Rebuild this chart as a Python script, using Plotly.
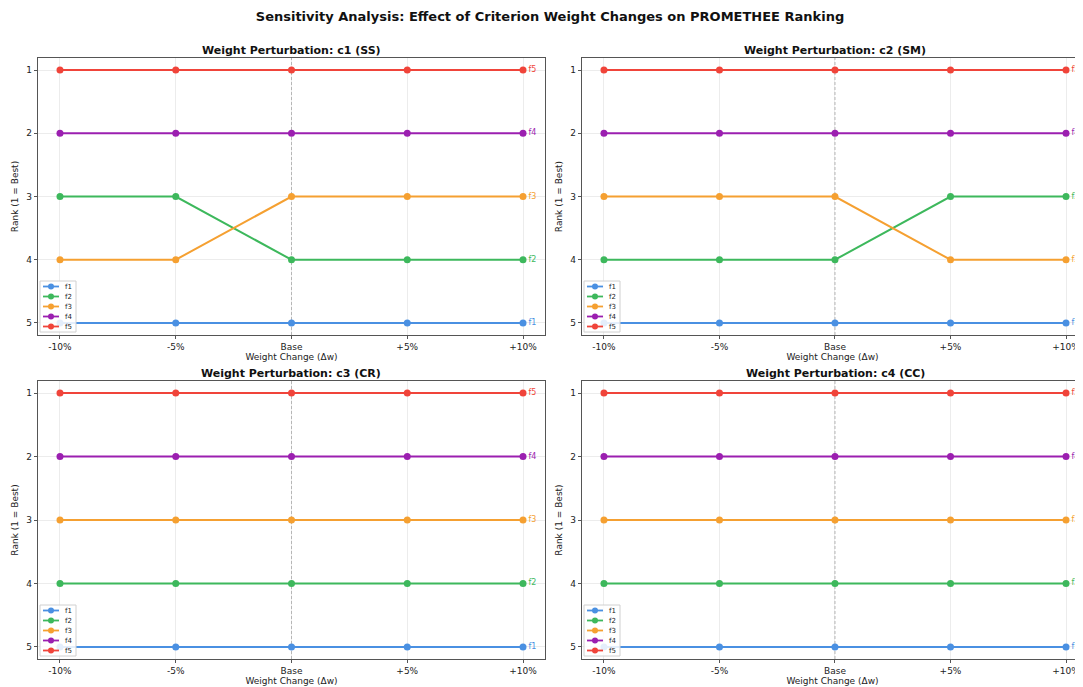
import plotly.graph_objects as go

x_labels = ["-10%", "-5%", "Base", "+5%", "+10%"]
flows = ["f1", "f2", "f3", "f4", "f5"]
colors = ["#4A90E2", "#3DB85C", "#F5A031", "#9B1FB0", "#F0443A"]
panel_titles = ["Weight Perturbation: c1 (SS)", "Weight Perturbation: c2 (SM)",
                "Weight Perturbation: c3 (CR)", "Weight Perturbation: c4 (CC)"]

ranks_c1 = {"f1": [5, 5, 5, 5, 5], "f2": [3, 3, 4, 4, 4], "f3": [4, 4, 3, 3, 3],
            "f4": [2, 2, 2, 2, 2], "f5": [1, 1, 1, 1, 1]}
ranks_c2 = {"f1": [5, 5, 5, 5, 5], "f2": [4, 4, 4, 3, 3], "f3": [3, 3, 3, 4, 4],
            "f4": [2, 2, 2, 2, 2], "f5": [1, 1, 1, 1, 1]}
ranks_c3 = {"f1": [5, 5, 5, 5, 5], "f2": [4, 4, 4, 4, 4], "f3": [3, 3, 3, 3, 3],
            "f4": [2, 2, 2, 2, 2], "f5": [1, 1, 1, 1, 1]}
ranks_c4 = {"f1": [5, 5, 5, 5, 5], "f2": [4, 4, 4, 4, 4], "f3": [3, 3, 3, 3, 3],
            "f4": [2, 2, 2, 2, 2], "f5": [1, 1, 1, 1, 1]}
panels = [ranks_c1, ranks_c2, ranks_c3, ranks_c4]

OFF = 8  # page body margin
W, H = 1083 - OFF, 687 - OFF
ML, MR, MT, MB = 38 - OFF, 0, 58 - OFF, 28
pw, ph = W - ML - MR, H - MT - MB

def px2x(p):
    return (p - OFF - ML) / pw

def px2y(p):
    return 1 - (p - OFF - MT) / ph

frame_left = [38, 582]
frame_bottom = [335, 659]
xdoms = [[px2x(38), px2x(545)], [px2x(582), 1.0]]
ydoms = [[px2y(335), px2y(58)], [0.0, px2y(381)]]
xranges = [[-0.19, 4.19], [-0.19, 4.147]]
yrange = [5.19, 0.81]

fig = go.Figure()
font = "DejaVu Sans, Arial, sans-serif"
xi = list(range(len(x_labels)))
shapes = []
annos = []

for k, data in enumerate(panels):
    r, c = divmod(k, 2)
    ax = "" if k == 0 else str(k + 1)
    # baseline (Base) reference line, beneath the data
    fig.add_trace(go.Scatter(
        x=[2, 2], y=yrange, mode="lines", hoverinfo="skip",
        line=dict(color="#b0b0b0", width=0.9, dash="3px,2px"),
        xaxis="x" + ax, yaxis="y" + ax, showlegend=False,
    ))
    for i, f in enumerate(flows):
        txt = [""] * (len(xi) - 1) + [f]
        fig.add_trace(go.Scatter(
            x=xi, y=data[f], mode="lines+markers+text", name=f,
            text=txt, textposition="middle right",
            textfont=dict(size=8, color=colors[i], family=font),
            line=dict(color=colors[i], width=2),
            marker=dict(size=7, color=colors[i]),
            xaxis="x" + ax, yaxis="y" + ax, showlegend=False, cliponaxis=False,
        ))
    xd, yd = xdoms[c], ydoms[r]
    fig.layout["xaxis" + ax] = dict(
        domain=xd, anchor="y" + ax, range=xranges[c],
        tickmode="array", tickvals=xi, ticktext=x_labels,
        showgrid=True, gridcolor="#ececec", gridwidth=1,
        showline=True, linecolor="#555555", linewidth=1.2, mirror=True,
        ticks="outside", ticklen=3, tickcolor="#555555",
        tickfont=dict(size=9, color="#222", family=font), zeroline=False,
        title=dict(text="Weight Change (Δw)", font=dict(size=9, color="#222", family=font), standoff=0),
    )
    fig.layout["yaxis" + ax] = dict(
        domain=yd, anchor="x" + ax, range=yrange,
        tickmode="array", tickvals=[1, 2, 3, 4, 5],
        showgrid=True, gridcolor="#ececec", gridwidth=1,
        showline=True, linecolor="#555555", linewidth=1.2, mirror=True,
        ticks="outside", ticklen=3, tickcolor="#555555",
        tickfont=dict(size=9, color="#222", family=font), zeroline=False,
        title=dict(text="Rank (1 = Best)", font=dict(size=9, color="#222", family=font), standoff=6),
    )
    annos.append(dict(text="<b>" + panel_titles[k] + "</b>", xref="paper", yref="paper",
                      x=px2x(291) if c == 0 else px2x(835), y=yd[1],
                      yshift=-1, xanchor="center", yanchor="bottom", showarrow=False,
                      font=dict(size=11, color="#111", family=font)))
    # compact legend (lower-left)
    L = frame_left[c] + 2
    B = frame_bottom[r] - 3
    T = B - 51
    shapes.append(dict(type="rect", xref="paper", yref="paper",
                       x0=px2x(L), x1=px2x(L + 36), y0=px2y(B), y1=px2y(T),
                       fillcolor="rgba(255,255,255,0.85)", line=dict(color="#d0d0d0", width=1),
                       layer="above"))
    for i, f in enumerate(flows):
        yy = T + 5.5 + 10 * i
        shapes.append(dict(type="line", xref="paper", yref="paper",
                           x0=px2x(L + 3), x1=px2x(L + 19), y0=px2y(yy), y1=px2y(yy),
                           line=dict(color=colors[i], width=1.8), layer="above"))
        shapes.append(dict(type="circle", xref="paper", yref="paper",
                           x0=px2x(L + 8), x1=px2x(L + 14), y0=px2y(yy - 3), y1=px2y(yy + 3),
                           fillcolor=colors[i], line=dict(color=colors[i], width=0), layer="above"))
        annos.append(dict(text=f, xref="paper", yref="paper", x=px2x(L + 23), y=px2y(yy),
                          xanchor="left", yanchor="middle", showarrow=False,
                          font=dict(size=7, color="#222", family=font)))

fig.update_layout(
    width=W, height=H, margin=dict(l=ML, r=MR, t=MT, b=MB),
    paper_bgcolor="white", plot_bgcolor="white", showlegend=False,
    shapes=shapes, annotations=annos,
    title=dict(text="<b>Sensitivity Analysis: Effect of Criterion Weight Changes on PROMETHEE Ranking</b>",
               x=(550 - OFF) / W, xanchor="center", y=1 - (16 - OFF) / H, yanchor="middle",
               font=dict(size=13, color="#111", family=font)),
)

fig.write_html("out.html")
